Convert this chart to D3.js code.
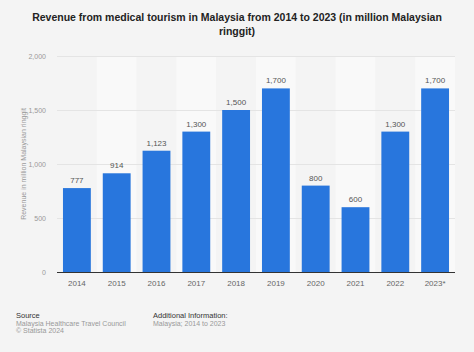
<!DOCTYPE html>
<html>
<head>
<meta charset="utf-8">
<script src="https://cdn.jsdelivr.net/npm/d3@7"></script>
<style>
  html, body { margin: 0; padding: 0; background: #f4f4f4; }
  svg { display: block; font-family: "Liberation Sans", Arial, sans-serif; }
</style>
</head>
<body>
<svg id="chart" width="474" height="352"></svg>
<script>
// chart data
const years = ["2014", "2015", "2016", "2017", "2018", "2019", "2020", "2021", "2022", "2023*"];
const revenue = [777, 914, 1123, 1300, 1500, 1700, 800, 600, 1300, 1700];
const yTicks = [0, 500, 1000, 1500, 2000];

const svg = d3.select("#chart");
const W = 474, H = 352;
const margin = {left: 57, right: 19, top: 56, bottom: 80};

svg.append("rect").attr("width", W).attr("height", H).attr("fill", "#f4f4f4");

// title
svg.append("text")
    .attr("x", W / 2).attr("y", 21)
    .attr("text-anchor", "middle")
    .attr("font-size", 10.5).attr("font-weight", "bold").attr("fill", "#222")
    .text("Revenue from medical tourism in Malaysia from 2014 to 2023 (in million Malaysian");
svg.append("text")
    .attr("x", W / 2).attr("y", 35)
    .attr("text-anchor", "middle")
    .attr("font-size", 10.5).attr("font-weight", "bold").attr("fill", "#222")
    .text("ringgit)");

const x = d3.scaleBand()
    .domain(years)
    .range([margin.left, W - margin.right])
    .paddingInner(0.3)
    .paddingOuter(0.15);

const y = d3.scaleLinear()
    .domain([0, 2000])
    .range([H - margin.bottom, margin.top]);

// alternating column shading
const step = x.step();
svg.append("g").selectAll("rect")
    .data(years)
    .join("rect")
    .attr("x", (d, i) => margin.left + i * step)
    .attr("y", margin.top)
    .attr("width", step)
    .attr("height", y(0) - margin.top)
    .attr("fill", (d, i) => i % 2 ? "#f9f9f9" : "#f4f4f4");

// gridlines
svg.append("g").selectAll("line")
    .data(yTicks.slice(1))
    .join("line")
    .attr("x1", margin.left).attr("x2", W - margin.right)
    .attr("y1", d => Math.round(y(d)) + 0.5).attr("y2", d => Math.round(y(d)) + 0.5)
    .attr("stroke", "#e4e4e4");

// y axis
const yAxis = svg.append("g")
    .attr("transform", `translate(${margin.left - 8},0)`)
    .call(d3.axisLeft(y).tickValues(yTicks).tickFormat(d3.format(",")).tickSize(0));
yAxis.select(".domain").remove();
yAxis.selectAll("text").attr("font-size", 7).attr("fill", "#999").attr("font-family", "Liberation Sans, Arial, sans-serif");

svg.append("text")
    .attr("transform", `translate(26,${(y(0) + y(2000)) / 2}) rotate(-90)`)
    .attr("text-anchor", "middle")
    .attr("font-size", 7).attr("fill", "#999")
    .text("Revenue in million Malaysian ringgit");

// bars
svg.append("g").selectAll("rect")
    .data(revenue)
    .join("rect")
    .attr("x", (d, i) => x(years[i]))
    .attr("y", d => y(d))
    .attr("width", x.bandwidth())
    .attr("height", d => y(0) - y(d))
    .attr("fill", "#2876dd");

// value labels
svg.append("g").selectAll("text")
    .data(revenue)
    .join("text")
    .attr("x", (d, i) => x(years[i]) + x.bandwidth() / 2)
    .attr("y", d => y(d) - 5)
    .attr("text-anchor", "middle")
    .attr("font-size", 8).attr("fill", "#555")
    .text(d3.format(","));

// x axis
const xAxis = svg.append("g")
    .attr("transform", `translate(0,${y(0)})`)
    .call(d3.axisBottom(x).tickSize(0).tickPadding(8));
xAxis.select(".domain").attr("stroke", "#333").attr("d", `M${margin.left},0.5H${W - margin.right}`);
xAxis.selectAll("text").attr("font-size", 8).attr("fill", "#666").attr("font-family", "Liberation Sans, Arial, sans-serif");

// footer
const foot = svg.append("g").attr("font-size", 7.5);
foot.append("text").attr("x", 16).attr("y", 318).attr("fill", "#333").text("Source");
foot.append("text").attr("x", 16).attr("y", 325.5).attr("fill", "#999").attr("font-size", 7).text("Malaysia Healthcare Travel Council");
foot.append("text").attr("x", 16).attr("y", 333).attr("fill", "#999").attr("font-size", 7).text("© Statista 2024");
foot.append("text").attr("x", 153).attr("y", 318).attr("fill", "#333").text("Additional Information:");
foot.append("text").attr("x", 153).attr("y", 325.5).attr("fill", "#999").attr("font-size", 7).text("Malaysia; 2014 to 2023");
</script>
</body>
</html>
